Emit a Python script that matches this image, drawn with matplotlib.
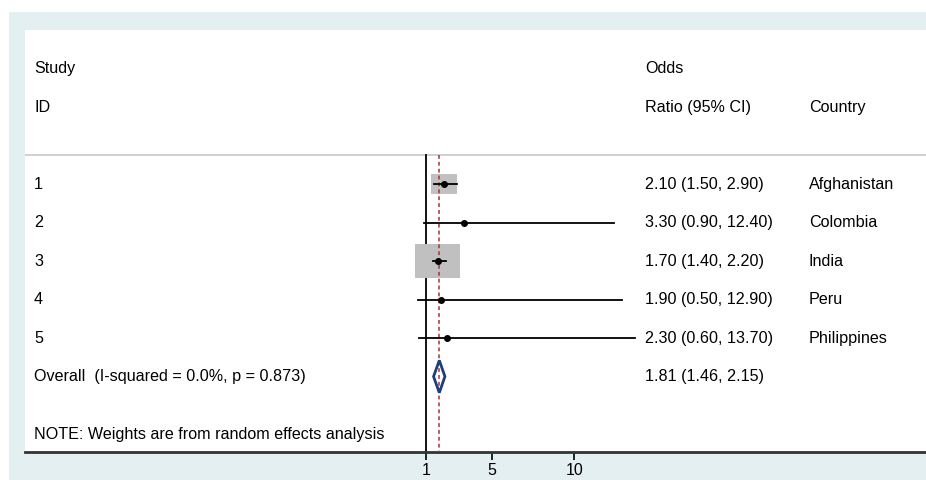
"""Forest plot (Stata metan style): odds ratios by study with random-effects pooled estimate."""
import numpy as np
import matplotlib; matplotlib.use("Agg"); import matplotlib.pyplot as plt
from matplotlib.patches import Rectangle, Polygon
import matplotlib.transforms as mtransforms

plt.rcParams["font.family"] = ["Liberation Sans", "DejaVu Sans"]

study_ids = ["1", "2", "3", "4", "5"]
or_est = [2.10, 3.30, 1.70, 1.90, 2.30]
ci_lo = [1.50, 0.90, 1.40, 0.50, 0.60]
ci_hi = [2.90, 12.40, 2.20, 12.90, 13.70]
weights = [25.5, 0.9, 72.0, 0.8, 0.8]          # % random-effects weight
countries = ["Afghanistan", "Colombia", "India", "Peru", "Philippines"]
overall_or, overall_lo, overall_hi = 1.81, 1.46, 2.15
overall_label = "Overall  (I-squared = 0.0%, p = 0.873)"
note = "NOTE: Weights are from random effects analysis"
xticks = [1, 5, 10]

W, H = 926, 480
fig = plt.figure(figsize=(W / 100, H / 100), dpi=100, facecolor="white")
# light blue outer region (Stata graph region)
fig.add_artist(Rectangle((9 / W, 0), 1 - 9 / W, (H - 12) / H, transform=fig.transFigure,
                         facecolor="#e3eff1", edgecolor="none", zorder=-5))
ax = fig.add_axes([25 / W, (H - 452) / H, 1 - 25 / W, (452 - 30) / H])
ax.set_zorder(1)
ax.set_facecolor("white")
ax.set_xlim(-23.33, 31.34)
ax.set_ylim(7.96, -3.0)
for s in ["top", "left", "right"]:
    ax.spines[s].set_visible(False)
ax.spines["bottom"].set_linewidth(2)
ax.spines["bottom"].set_color("#333333")
ax.set_yticks([])
ax.set_xticks(xticks)
ax.set_xticklabels([str(t) for t in xticks])
ax.tick_params(axis="x", length=6, width=1.2, labelsize=11.5, pad=2)

rows = np.arange(1, len(study_ids) + 1)
ov_row = len(study_ids) + 1
top_line = 0.25

ax.axhline(top_line, color="#c8c8c8", lw=1.2, zorder=1)
ax.plot([1, 1], [top_line, 7.96], color="black", lw=1.3, zorder=2, clip_on=False)
ax.plot([overall_or, overall_or], [top_line, 7.96], color="#a3323c", lw=1.1, ls=(0, (2.5, 2)), zorder=3)

c = 0.3217
for r, est, lo, hi, w in zip(rows, or_est, ci_lo, ci_hi, weights):
    bw = c * np.sqrt(w)
    bh = bw * 0.3236
    ax.add_patch(Rectangle((est - bw / 2, r - bh / 2), bw, bh, facecolor="#c0c0c0", edgecolor="none", zorder=2))
    ax.plot([lo, hi], [r, r], color="black", lw=1.3, zorder=4)
    ax.plot(est, r, "o", color="black", ms=4, zorder=5)

dh = 0.42
ax.add_patch(Polygon([(overall_lo, ov_row), (overall_or, ov_row - dh), (overall_hi, ov_row),
                      (overall_or, ov_row + dh)], closed=True, facecolor="none",
                     edgecolor="#1f3f7c", lw=2, zorder=5))

tr = mtransforms.blended_transform_factory(ax.transAxes, ax.transData)
fs = 11.6
x_id, x_or, x_ct = 9 / 901, 620 / 901, 784 / 901
ax.text(x_id, -2, "Study", transform=tr, va="center", fontsize=fs)
ax.text(x_id, -1, "ID", transform=tr, va="center", fontsize=fs)
ax.text(x_or, -2, "Odds", transform=tr, va="center", fontsize=fs)
ax.text(x_or, -1, "Ratio (95% CI)", transform=tr, va="center", fontsize=fs)
ax.text(x_ct, -1, "Country", transform=tr, va="center", fontsize=fs)
for r, sid, est, lo, hi, ct in zip(rows, study_ids, or_est, ci_lo, ci_hi, countries):
    ax.text(x_id, r, sid, transform=tr, va="center", fontsize=fs)
    ax.text(x_or, r, f"{est:.2f} ({lo:.2f}, {hi:.2f})", transform=tr, va="center", fontsize=fs)
    ax.text(x_ct, r, ct, transform=tr, va="center", fontsize=fs)
ax.text(x_id, ov_row, overall_label, transform=tr, va="center", fontsize=fs)
ax.text(x_or, ov_row, f"{overall_or:.2f} ({overall_lo:.2f}, {overall_hi:.2f})", transform=tr, va="center", fontsize=fs)
ax.text(x_id, 7.5, note, transform=tr, va="center", fontsize=fs)

fig.savefig("out.png", dpi=100, facecolor=fig.get_facecolor())
